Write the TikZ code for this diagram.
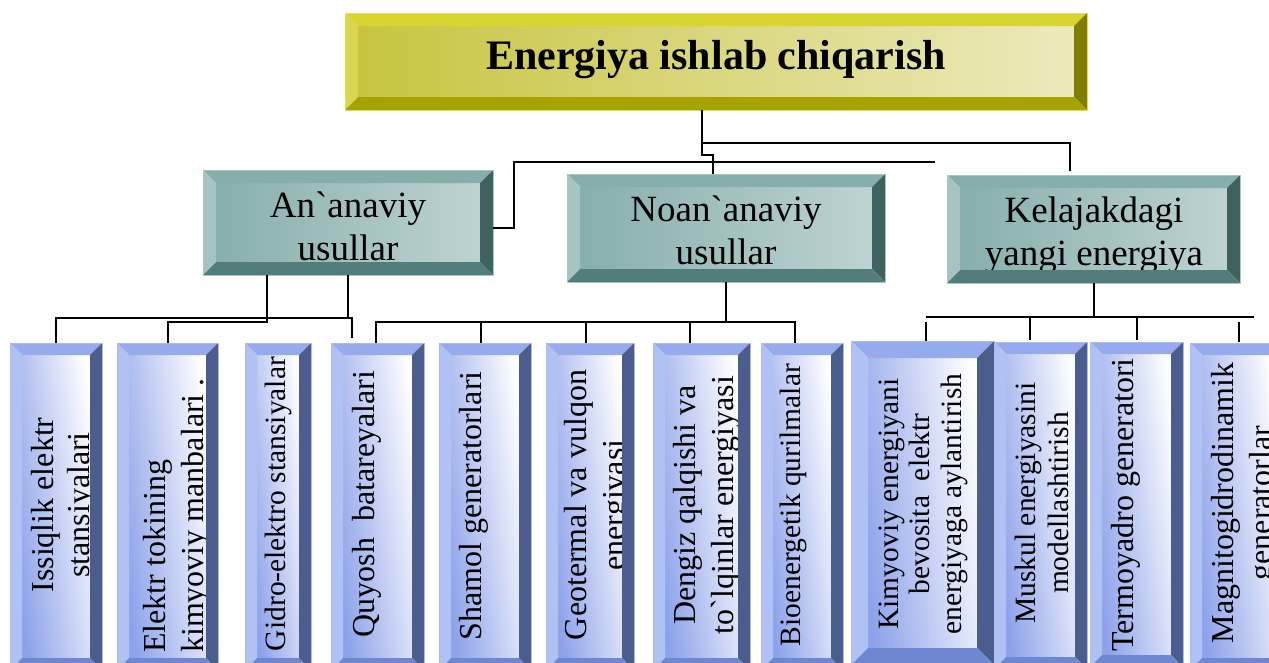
\documentclass[tikz,border=0pt]{standalone}
\usepackage{fontspec}
\setmainfont{Liberation Serif}[Ligatures=TeXOff]
\usetikzlibrary{fit}
\definecolor{yT}{HTML}{D8D430}
\definecolor{yL}{HTML}{DAD650}
\definecolor{yR}{HTML}{807D00}
\definecolor{yB}{HTML}{A6A300}
\definecolor{yF}{HTML}{C8C440}
\definecolor{tT}{HTML}{86AEAB}
\definecolor{tL}{HTML}{A5C4C2}
\definecolor{tR}{HTML}{3F6260}
\definecolor{tB}{HTML}{537D7A}
\definecolor{tF}{HTML}{87AFAC}
\definecolor{bT}{HTML}{95ABEB}
\definecolor{bL}{HTML}{B0C1F3}
\definecolor{bR}{HTML}{4B5D8D}
\definecolor{bB}{HTML}{6F86D0}
\definecolor{bF}{HTML}{8DA2EA}
\tikzset{
  yface/.style={left color=yF, middle color=white, right color=yF!35},
  ytop/.style={fill=yT}, yleft/.style={fill=yL}, yright/.style={fill=yR}, ybot/.style={fill=yB},
  yline/.style={draw=yT!80!white, line width=0.8pt},
  tface/.style={left color=tF, middle color=white, right color=tF!55},
  ttop/.style={fill=tT}, tleft/.style={fill=tL}, tright/.style={fill=tR}, tbot/.style={fill=tB},
  tline/.style={draw=tT!70!white, line width=0.8pt},
  bface/.style={left color=bF, middle color=bF!25, right color=white, shading angle=97},
  btop/.style={fill=bT}, bleft/.style={fill=bL}, bright/.style={fill=bR}, bbot/.style={fill=bB},
  bline/.style={draw=bT!80!blue!60!white, line width=0.8pt},
  conn/.style={draw=black, line width=2pt},
  rot/.style={rotate=90}
}
% #1 name, #2 x1, #3 y1, #4 x2, #5 y2, #6 bevel, #7 palette, #8 text options, #9 text
\newcommand{\bevbox}[9]{%
  \node[inner sep=0pt, outer sep=0pt, fit={(#2,#3) (#4,#5)}] (#1) {};
  \shade[#7face] (#2+#6,#3+#6) rectangle (#4-#6,#5-#6);
  \begin{scope}
    \clip (#2+#6,#3+#6) rectangle (#4-#6,#5-#6);
    \node[inner sep=0pt, #8] (#1t) {#9};
  \end{scope}
  \fill[#7top] (#2,#3) -- (#4,#3) -- (#4-#6,#3+#6) -- (#2+#6,#3+#6) -- cycle;
  \fill[#7left] (#2,#3) -- (#2+#6,#3+#6) -- (#2+#6,#5-#6) -- (#2,#5) -- cycle;
  \fill[#7right] (#4,#3) -- (#4,#5) -- (#4-#6,#5-#6) -- (#4-#6,#3+#6) -- cycle;
  \fill[#7bot] (#2,#5) -- (#4,#5) -- (#4-#6,#5-#6) -- (#2+#6,#5-#6) -- cycle;
  \draw[#7line] (#2,#3) rectangle (#4,#5);
}
\begin{document}
\begin{tikzpicture}[x=1pt,y=-1pt]
\useasboundingbox (0,0) rectangle (1269,662);
\clip (0,0) rectangle (1269,662);
\fill[white] (0,0) rectangle (1269,662);

% top
\bevbox{top}{345}{13}{1087}{110}{13}{y}{at={(716,69)}, anchor=base, font=\fontsize{42}{48}\selectfont\bfseries}{Energiya ishlab chiqarish}

% middle
\bevbox{an}{203}{170}{493}{275}{13}{t}{at={(348,226)}, align=center, font=\fontsize{37}{43}\selectfont}{An`anaviy\\usullar}
\bevbox{noan}{567}{174}{885}{282}{13}{t}{at={(726,230)}, align=center, font=\fontsize{37}{43}\selectfont}{Noan`anaviy\\usullar}
\bevbox{kel}{947}{175}{1240}{283}{13}{t}{at={(1094,235)}, align=center, font=\fontsize{37}{43}\selectfont}{Kelajakdagi\\yangi energiya}

% bottom
\bevbox{b1}{10}{343}{102}{670}{12}{b}{rot, at={(63.5,505)}, align=center, font=\fontsize{32}{36}\selectfont}{Issiqlik elektr\\stansiyalari}
\bevbox{b2}{117}{343}{218}{670}{12}{b}{rot, at={(176.5,653)}, anchor=west, align=left, font=\fontsize{32}{38}\selectfont}{Elektr tokining\\kimyoviy manbalari .}
\bevbox{b3}{245}{343}{311}{670}{12}{b}{rot, at={(285,504)}, anchor=base, font=\fontsize{29.5}{34}\selectfont}{Gidro-elektro stansiyalar}
\bevbox{b4}{331}{343}{424}{670}{12}{b}{rot, at={(374,504)}, anchor=base, font=\fontsize{32}{38}\selectfont}{Quyosh\ \ batareyalari}
\bevbox{b5}{439}{343}{531}{670}{12}{b}{rot, at={(481,506)}, anchor=base, font=\fontsize{32}{38}\selectfont}{Shamol generatorlari}
\bevbox{b6}{546}{343}{634}{670}{12}{b}{rot, at={(597.5,505)}, align=center, font=\fontsize{32}{38}\selectfont}{Geotermal va vulqon\\energiyasi}
\bevbox{b7}{653}{343}{750}{670}{12}{b}{rot, at={(707,505)}, align=center, font=\fontsize{32}{38}\selectfont}{Dengiz qalqishi va\\to`lqinlar energiyasi}
\bevbox{b8}{761}{343}{843}{670}{12}{b}{rot, at={(800,505)}, anchor=base, font=\fontsize{29.5}{34}\selectfont}{Bioenergetik qurilmalar}
\bevbox{b9}{851}{341}{994}{665}{17}{b}{rot, at={(923,504)}, align=center, font=\fontsize{29.5}{31.5}\selectfont}{Kimyoviy energiyani\\bevosita\ \ elektr\\energiyaga aylantirish}
\bevbox{b10}{994}{342}{1087}{669}{12}{b}{rot, at={(1041.5,503)}, align=center, font=\fontsize{29.5}{33}\selectfont}{Muskul energiyasini\\modellashtirish}
\bevbox{b11}{1090}{342}{1183}{667}{12}{b}{rot, at={(1133,505)}, anchor=base, font=\fontsize{32}{38}\selectfont}{Termoyadro generatori}
\bevbox{b12}{1190}{343}{1288}{670}{12}{b}{rot, at={(1244.5,503)}, align=center, font=\fontsize{32}{38}\selectfont}{Magnitogidrodinamik\\generatorlar}

% connectors from the top box
\coordinate (j1) at (702,143);
\coordinate (l1) at (935,162);
\draw[conn] (top.south -| j1) -- (j1) -| ([xshift=-23.5pt,yshift=4pt]kel.north);
\draw[conn] (j1) -- ++(0,12) -| ([xshift=-13pt]noan.north);
\draw[conn] ([yshift=-5.5pt]an.east) -- ++(21,0) |- (l1);

% An`anaviy group
\draw[conn] ([xshift=-81pt]an.south) -- ++(0,47) -| (b2.north);
\draw[conn] (an.south) -- ++(0,43) coordinate (ja) -| (b1.north);
\draw[conn] (ja) -| ([xshift=-25.5pt,yshift=5pt]b4.north);

% Noan`anaviy group
\draw[conn] (noan.south) -- ++(0,40) coordinate (jn);
\draw[conn] (jn) -| ([xshift=-1.5pt]b4.north);
\draw[conn] (jn) -| ([xshift=-4pt]b5.north);
\draw[conn] (jn) -| ([xshift=-4pt]b6.north);
\draw[conn] (jn) -| ([xshift=-11.5pt]b7.north);
\draw[conn] (jn) -| ([xshift=-7pt]b8.north);

% Kelajakdagi group
\draw[conn] (kel.south) -- ++(0,34) coordinate (jk);
\draw[conn] (jk) -- ++(-168,0);
\draw[conn] (jk) -- ++(160,0);
\draw[conn] (jk) -| ([xshift=-11pt,yshift=2pt]b10.north);
\draw[conn] (jk) -| ([yshift=2pt]b11.north);
\draw[conn] ([xshift=3.5pt]b9.north) -- ++(0,-19);
\draw[conn] ([yshift=1pt]b12.north) -- ++(0,-20);
\end{tikzpicture}
\end{document}
